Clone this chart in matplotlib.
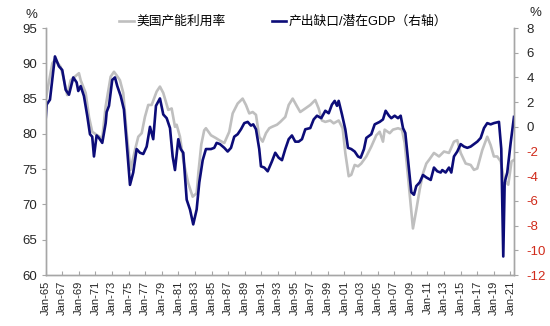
import matplotlib
matplotlib.use("Agg")
import matplotlib.pyplot as plt

# US capacity utilization (%, left axis)
util_years = [1965.0, 1965.8, 1966.12, 1966.81, 1967.14, 1967.6, 1968.01, 1969.01, 1969.22, 1969.82,
              1970.22, 1970.61, 1971.22, 1971.82, 1972.23, 1972.83, 1973.23, 1973.55, 1973.95, 1974.35,
              1974.76, 1975.22, 1975.76, 1976.16, 1976.57, 1976.96, 1977.36, 1977.77, 1978.37, 1978.77,
              1979.17, 1979.77, 1980.18, 1980.58, 1980.78, 1981.18, 1981.58, 1982.18, 1982.71, 1983.19,
              1983.4, 1983.75, 1984.1, 1984.31, 1984.92, 1985.52, 1985.92, 1986.52, 1987.12, 1987.53,
              1988.13, 1988.73, 1989.13, 1989.53, 1989.94, 1990.34, 1990.73, 1991.14, 1991.54, 1991.94,
              1992.27, 1992.87, 1993.27, 1993.87, 1994.28, 1994.76, 1995.28, 1995.67, 1996.28, 1996.88,
              1997.48, 1997.89, 1998.29, 1998.69, 1999.29, 1999.7, 2000.3, 2000.78, 2001.1, 2001.51,
              2001.82, 2002.23, 2002.63, 2003.02, 2003.63, 2004.23, 2004.83, 2005.24, 2005.64, 2005.84,
              2006.45, 2006.84, 2007.45, 2007.93, 2008.25, 2008.65, 2009.25, 2009.65, 2010.06, 2010.46,
              2010.86, 2011.18, 2011.78, 2012.39, 2012.99, 2013.59, 2014.19, 2014.59, 2015.0, 2015.6,
              2016.2, 2016.6, 2017.0, 2017.6, 2018.2, 2018.61, 2019.0, 2019.4, 2019.82, 2020.22,
              2020.73, 2021.13, 2021.42]
util_values = [84.8, 90.0, 90.5, 89.5, 88.0, 85.5, 87.6, 88.6, 87.6, 85.8,
               82.4, 80.3, 79.8, 79.4, 83.9, 88.1, 88.8, 88.3, 87.6, 85.8,
               80.1, 74.9, 77.7, 79.6, 80.1, 82.4, 84.1, 84.1, 86.0, 86.7,
               85.8, 83.4, 83.6, 81.0, 81.3, 79.6, 76.3, 73.0, 71.1, 71.6,
               74.5, 78.5, 80.5, 80.8, 79.8, 79.4, 79.1, 78.7, 80.3, 82.9,
               84.3, 85.0, 84.1, 82.9, 83.1, 82.7, 79.6, 78.9, 80.1, 80.8,
               81.0, 81.3, 81.7, 82.4, 84.1, 85.0, 83.9, 83.1, 83.6, 84.1,
               84.8, 83.6, 81.9, 81.7, 81.9, 81.5, 81.9, 80.8, 77.3, 74.0,
               74.2, 75.6, 75.4, 75.8, 76.8, 78.2, 79.8, 80.3, 78.9, 80.6,
               80.1, 80.6, 80.8, 80.6, 78.7, 74.0, 66.6, 69.2, 72.1, 74.4,
               75.8, 76.3, 77.3, 76.8, 77.5, 77.3, 78.9, 79.1, 77.3, 75.8,
               75.6, 74.9, 75.1, 77.7, 79.6, 78.4, 76.8, 76.8, 76.1, 73.5,
               72.8, 76.1, 76.3]

# Output gap as % of potential GDP (right axis)
gap_years = [1965.0, 1965.12, 1965.52, 1966.12, 1966.6, 1967.0, 1967.41, 1967.81, 1968.33, 1968.73,
             1968.93, 1969.22, 1969.61, 1970.01, 1970.34, 1970.61, 1970.82, 1971.14, 1971.42, 1971.82,
             1972.23, 1972.35, 1972.63, 1973.02, 1973.35, 1973.63, 1974.04, 1974.43, 1974.76, 1975.16,
             1975.55, 1975.96, 1976.36, 1976.76, 1977.17, 1977.57, 1977.96, 1978.29, 1978.77, 1979.17,
             1979.58, 1979.98, 1980.3, 1980.58, 1980.98, 1981.27, 1981.58, 1981.99, 1982.39, 1982.78,
             1983.19, 1983.51, 1983.92, 1984.31, 1984.92, 1985.31, 1985.6, 1986.0, 1986.52, 1986.93,
             1987.33, 1987.72, 1988.13, 1988.53, 1988.93, 1989.34, 1989.73, 1990.01, 1990.34, 1990.73,
             1990.94, 1991.34, 1991.75, 1992.26, 1992.66, 1993.07, 1993.47, 1993.87, 1994.28, 1994.67,
             1995.07, 1995.48, 1995.88, 1996.28, 1996.88, 1997.29, 1997.69, 1998.2, 1998.69, 1999.1,
             1999.49, 1999.82, 2000.1, 2000.3, 2000.7, 2001.1, 2001.42, 2001.82, 2002.23, 2002.63,
             2002.95, 2003.35, 2003.63, 2004.23, 2004.64, 2005.24, 2005.64, 2005.96, 2006.36, 2006.64,
             2007.05, 2007.45, 2007.77, 2008.05, 2008.33, 2008.66, 2009.05, 2009.37, 2009.65, 2010.06,
             2010.46, 2010.86, 2011.39, 2011.78, 2012.18, 2012.59, 2012.78, 2013.19, 2013.59, 2013.87,
             2014.19, 2014.59, 2015.0, 2015.4, 2015.8, 2016.2, 2016.6, 2017.0, 2017.41, 2017.81,
             2018.2, 2018.61, 2019.0, 2019.61, 2019.89, 2020.13, 2020.3, 2020.61, 2021.02, 2021.42]
gap_values = [0.6, 1.8, 2.2, 5.7, 4.9, 4.6, 3.0, 2.6, 4.0, 3.6,
              2.9, 3.3, 2.5, 0.9, -0.6, -0.8, -2.4, -0.7, -0.9, -1.3,
              0.3, 1.2, 1.7, 3.8, 4.0, 3.3, 2.5, 1.4, -1.3, -4.7,
              -3.7, -1.8, -2.1, -2.2, -1.6, 0.0, -1.0, 1.7, 2.3, 1.0,
              0.7, -0.1, -2.4, -3.5, -1.0, -1.8, -2.1, -5.9, -6.7, -7.9,
              -6.7, -4.5, -2.7, -1.8, -1.8, -1.7, -1.3, -1.4, -1.7, -2.0,
              -1.7, -0.8, -0.6, -0.2, 0.3, 0.4, 0.1, 0.2, -0.2, -1.8,
              -3.2, -3.3, -3.6, -2.8, -2.1, -2.5, -2.7, -1.8, -1.0, -0.7,
              -1.2, -1.2, -1.0, -0.2, -0.1, 0.6, 0.9, 0.7, 1.3, 1.1,
              1.8, 2.1, 1.7, 2.1, 1.0, -0.2, -1.7, -1.8, -2.0, -2.4,
              -2.5, -1.8, -0.9, -0.6, 0.2, 0.4, 0.6, 1.3, 0.9, 0.7,
              0.9, 0.7, 0.9, -0.1, -0.5, -2.7, -5.3, -5.5, -4.8, -4.5,
              -3.9, -4.1, -4.3, -3.3, -3.6, -3.7, -3.5, -3.7, -3.3, -3.7,
              -2.4, -2.0, -1.4, -1.6, -1.7, -1.6, -1.4, -1.2, -0.9, -0.1,
              0.3, 0.2, 0.3, 0.4, -1.8, -10.5, -4.5, -3.7, -1.3, 0.8]

left_ticks = [60, 65, 70, 75, 80, 85, 90, 95]
right_ticks = [-12, -10, -8, -6, -4, -2, 0, 2, 4, 6, 8]
x_tick_years = list(range(1965, 2022, 2))
x_tick_labels = ["Jan-%02d" % (y % 100) for y in x_tick_years]

util_label = "美国产能利用率"
gap_label = "产出缺口/潜在GDP（右轴）"

GRAY = "#bfbfbf"
NAVY = "#0c0c78"
SPINE = "#a6a6a6"
TEXT = "#262626"
RED = "#d02a1a"
LATIN = "Liberation Sans"
FAMILY = [LATIN, "Noto Sans CJK SC"]

plt.rcParams["font.family"] = FAMILY

fig = plt.figure(figsize=(5.5, 3.26), dpi=100)
ax = fig.add_axes([0.083, 0.1564, 0.8515, 0.7576])
ax2 = ax.twinx()

l1, = ax.plot(util_years, util_values, color=GRAY, lw=1.9, solid_joinstyle="round")
l2, = ax2.plot(gap_years, gap_values, color=NAVY, lw=1.9, solid_joinstyle="round")

ax.set_xlim(1965, 2021.42)
ax.set_ylim(60, 95)
ax2.set_ylim(-12, 8)

ax.set_yticks(left_ticks)
ax.set_yticklabels([str(t) for t in left_ticks], fontsize=9.5, color=TEXT)
ax2.set_yticks(right_ticks)
ax2.set_yticklabels([str(t) for t in right_ticks], fontsize=9.5)
for lab, t in zip(ax2.get_yticklabels(), right_ticks):
    lab.set_color(RED if t < 0 else TEXT)

ax.set_xticks(x_tick_years)
ax.set_xticklabels(x_tick_labels, rotation=90, fontsize=8, color=TEXT)

for a in (ax, ax2):
    a.spines["top"].set_visible(False)
    for s in ("left", "right", "bottom"):
        a.spines[s].set_color(SPINE)
        a.spines[s].set_linewidth(1.0)
ax.tick_params(axis="x", direction="in", length=3, color=SPINE, pad=4)
ax.tick_params(axis="y", direction="out", length=3, color=SPINE, pad=3)
ax2.tick_params(axis="y", direction="out", length=3, color=SPINE, pad=6)

fig.text(0.057, 0.955, "%", fontsize=9.5, color=TEXT, ha="center", va="center")
fig.text(0.973, 0.96, "%", fontsize=9.5, color=TEXT, ha="center", va="center")

fig.legend([l1, l2], [util_label, gap_label], loc="center",
           bbox_to_anchor=(0.515, 0.933), ncol=2, frameon=False,
           fontsize=9.2, handlelength=1.15, handletextpad=0.2,
           columnspacing=3.6, borderpad=0.2)

fig.savefig("out.png", dpi=100, facecolor="white")
